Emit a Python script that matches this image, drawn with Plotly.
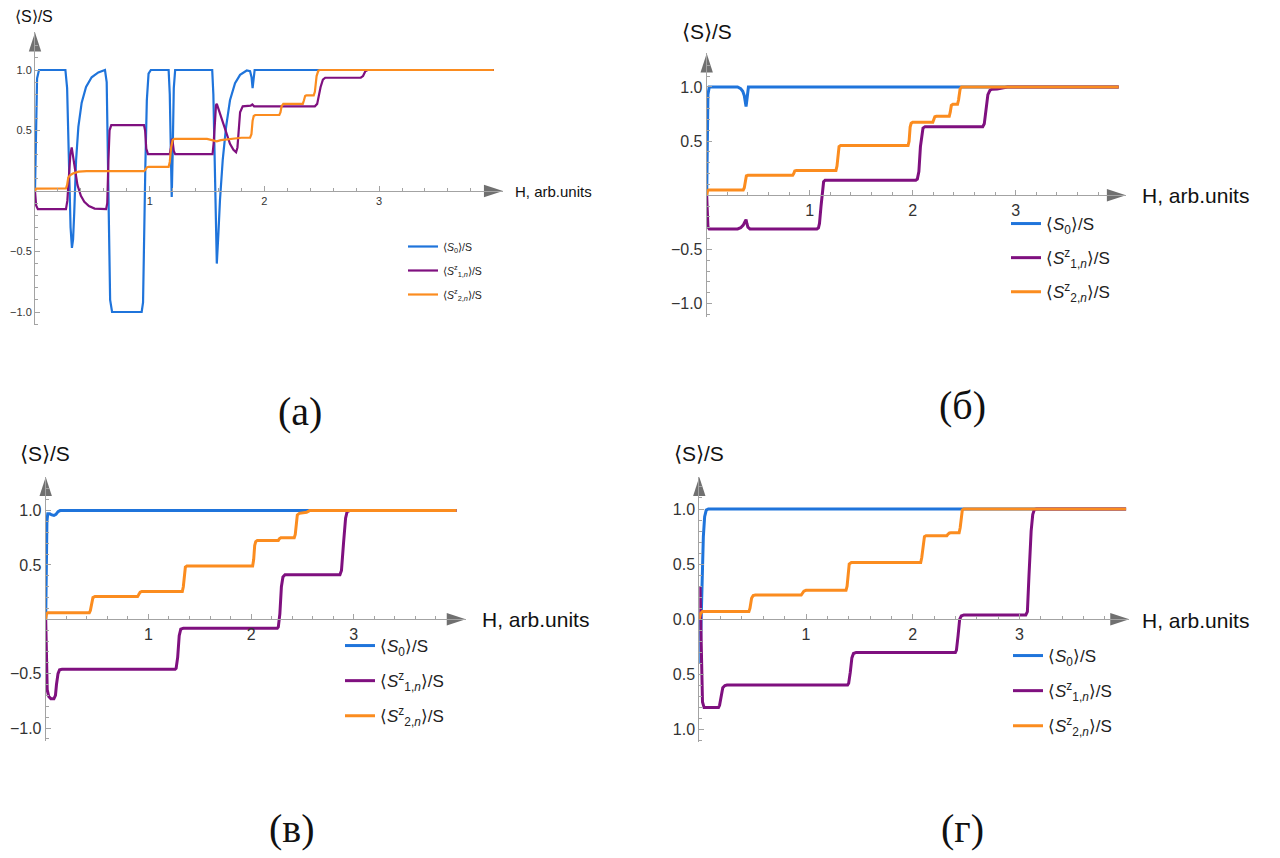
import plotly.graph_objects as go

# ---------------- data ----------------
series_names = ["⟨<i>S</i><sub>0</sub>⟩/S",
                "⟨<i>S</i><sup>z</sup><sub>1,<i>n</i></sub>⟩/S",
                "⟨<i>S</i><sup>z</sup><sub>2,<i>n</i></sub>⟩/S"]
panel_captions = ["(а)", "(б)", "(в)", "(г)"]
y_axis_title = "⟨S⟩/S"
x_axis_title = "H, arb.units"

x_tick_vals = [1, 2, 3]
x_tick_text = ["1", "2", "3"]
y_tick_vals = [-1.0, -0.5, 0.5, 1.0]
y_tick_text = ["−1.0", "−0.5", "0.5", "1.0"]
y_tick_vals_d = [-1.0, -0.5, 0.0, 0.5, 1.0]
y_tick_text_d = ["1.0", "0.5", "0.0", "0.5", "1.0"]

# panel (а)
a_s0_H = [0, 0.008, 0.018, 0.035, 0.265, 0.28, 0.295, 0.31, 0.322, 0.332, 0.342, 0.358, 0.378, 0.407, 0.445,
          0.494, 0.552, 0.61, 0.625, 0.635, 0.645, 0.655, 0.672, 0.93, 0.942, 0.952, 0.962, 0.975, 0.99, 1.01,
          1.165, 1.175, 1.183, 1.192, 1.2, 1.21, 1.222, 1.545, 1.555, 1.565, 1.575, 1.585, 1.599, 1.613, 1.637,
          1.666, 1.70, 1.744, 1.788, 1.846, 1.875, 1.888, 1.897, 1.905, 1.915, 4.0]
a_s0 = [0, 0.6, 0.93, 1.0, 1.0, 0.85, 0.3, -0.3, -0.47, -0.4, -0.18, 0.25, 0.53, 0.73, 0.86,
        0.94, 0.98, 1.0, 0.9, 0.3, -0.5, -0.9, -1.0, -1.0, -0.92, -0.5, 0.2, 0.75, 0.97, 1.0,
        1.0, 0.8, 0.35, -0.05, 0.3, 0.85, 1.0, 1.0, 0.8, 0.3, -0.3, -0.6, -0.35, -0.07, 0.26,
        0.53, 0.75, 0.89, 0.96, 0.996, 0.99, 0.94, 0.85, 0.95, 1.0, 1.0]
a_s1_H = [0, 0.01, 0.025, 0.27, 0.282, 0.295, 0.308, 0.32, 0.335, 0.35, 0.37, 0.40, 0.43, 0.47, 0.52, 0.62,
          0.63, 0.64, 0.65, 0.665, 0.95, 0.96, 0.97, 0.985, 1.175, 1.185, 1.193, 1.2, 1.21, 1.222,
          1.548, 1.558, 1.568, 1.578, 1.585, 1.613, 1.657, 1.70, 1.73, 1.753, 1.765, 1.775, 1.788, 1.811,
          1.88, 1.895, 1.91, 2.44, 2.46, 2.49, 2.51, 2.53, 2.84, 2.86, 2.88, 2.90, 4.0]
a_s1 = [0, -0.12, -0.15, -0.15, -0.08, 0.12, 0.3, 0.36, 0.26, 0.15, 0.05, -0.04, -0.09, -0.125, -0.145, -0.15,
        -0.1, 0.25, 0.5, 0.545, 0.545, 0.5, 0.35, 0.305, 0.305, 0.36, 0.43, 0.41, 0.33, 0.305,
        0.305, 0.4, 0.62, 0.71, 0.72, 0.64, 0.50, 0.39, 0.34, 0.32, 0.36, 0.5, 0.65, 0.70,
        0.705, 0.715, 0.70, 0.70, 0.72, 0.86, 0.92, 0.936, 0.936, 0.95, 0.99, 1.0, 1.0]
a_s2_H = [0, 0.01, 0.27, 0.28, 0.29, 0.305, 0.33, 0.38, 0.45, 0.95, 0.962, 0.975, 0.99, 1.165, 1.175, 1.187,
          1.2, 1.215, 1.50, 1.56, 1.585, 1.62, 1.70, 1.80, 1.875, 1.887, 1.897, 1.907, 1.92, 2.13, 2.14,
          2.15, 2.165, 2.335, 2.345, 2.355, 2.365, 2.43, 2.44, 2.455, 2.47, 2.485, 4.0]
a_s2 = [0, 0.02, 0.022, 0.05, 0.11, 0.13, 0.145, 0.16, 0.165, 0.165, 0.175, 0.195, 0.2, 0.2, 0.24, 0.36,
        0.42, 0.43, 0.43, 0.415, 0.41, 0.42, 0.43, 0.44, 0.44, 0.47, 0.58, 0.62, 0.628, 0.628, 0.65,
        0.70, 0.72, 0.72, 0.75, 0.785, 0.79, 0.79, 0.82, 0.95, 0.995, 1.0, 1.0]

# panel (б)
b_s0_H = [0, 0.005, 0.012, 0.025, 0.30, 0.33, 0.35, 0.365, 0.375, 0.382, 0.39, 0.397, 0.405, 4.0]
b_s0 = [0, 0.6, 0.93, 1.0, 1.0, 0.985, 0.96, 0.92, 0.86, 0.82, 0.88, 0.97, 1.0, 1.0]
b_s1_H = [0, 0.005, 0.012, 0.025, 0.30, 0.33, 0.355, 0.37, 0.382, 0.39, 0.40, 0.42, 1.07, 1.085, 1.095,
          1.11, 1.125, 1.135, 1.15, 2.03, 2.045, 2.06, 2.075, 2.09, 2.10, 2.12, 2.68, 2.695, 2.71, 2.73,
          2.75, 2.77, 2.82, 2.88, 2.92, 4.0]
b_s1 = [0, -0.2, -0.29, -0.31, -0.31, -0.30, -0.275, -0.245, -0.225, -0.26, -0.295, -0.31, -0.31, -0.30, -0.26,
        -0.1, 0.08, 0.125, 0.14, 0.14, 0.15, 0.22, 0.45, 0.58, 0.62, 0.634, 0.634, 0.66, 0.78, 0.93,
        0.97, 0.98, 0.982, 0.99, 1.0, 1.0]
b_s2_H = [0, 0.008, 0.02, 0.355, 0.365, 0.375, 0.385, 0.40, 0.835, 0.845, 0.855, 0.87, 1.255, 1.265, 1.275,
          1.285, 1.30, 1.955, 1.965, 1.975, 1.985, 2.0, 2.195, 2.205, 2.215, 2.23, 2.355, 2.365, 2.375,
          2.39, 2.435, 2.445, 2.46, 2.475, 4.0]
b_s2 = [0, 0.04, 0.05, 0.05, 0.07, 0.15, 0.18, 0.185, 0.185, 0.2, 0.225, 0.23, 0.23, 0.27, 0.40,
        0.45, 0.46, 0.46, 0.5, 0.63, 0.665, 0.674, 0.674, 0.70, 0.725, 0.73, 0.73, 0.77, 0.83,
        0.84, 0.84, 0.88, 0.98, 1.0, 1.0]

# panel (в)
c_s0_H = [0, 0.005, 0.012, 0.02, 0.04, 0.06, 0.08, 0.10, 0.12, 0.14, 4.0]
c_s0 = [0, 0.5, 0.9, 0.97, 0.97, 0.96, 0.955, 0.965, 0.99, 1.0, 1.0]
c_s1_H = [0, 0.006, 0.015, 0.03, 0.05, 0.08, 0.095, 0.105, 0.12, 0.135, 0.16, 1.26, 1.27, 1.285, 1.30,
          1.315, 1.34, 2.255, 2.265, 2.28, 2.295, 2.31, 2.33, 2.865, 2.88, 2.90, 2.92, 2.935, 2.96, 4.0]
c_s1 = [0, -0.4, -0.65, -0.71, -0.73, -0.73, -0.7, -0.6, -0.5, -0.465, -0.46, -0.46, -0.45, -0.35, -0.15,
        -0.09, -0.083, -0.083, -0.07, 0.05, 0.3, 0.39, 0.41, 0.41, 0.45, 0.7, 0.93, 0.99, 1.0, 1.0]
c_s2_H = [0, 0.008, 0.02, 0.425, 0.435, 0.45, 0.46, 0.48, 0.895, 0.905, 0.92, 0.935, 1.33, 1.34, 1.35,
          1.36, 1.375, 2.015, 2.025, 2.035, 2.045, 2.06, 2.265, 2.275, 2.29, 2.42, 2.43, 2.44, 2.45,
          2.47, 2.50, 2.54, 2.57, 4.0]
c_s2 = [0, 0.05, 0.061, 0.061, 0.08, 0.17, 0.2, 0.21, 0.21, 0.225, 0.25, 0.255, 0.255, 0.3, 0.43,
        0.48, 0.49, 0.49, 0.55, 0.68, 0.715, 0.724, 0.724, 0.74, 0.75, 0.75, 0.78, 0.9, 0.96,
        0.975, 0.98, 0.985, 1.0, 1.0]

# panel (г)
d_s0_H = [0, 0.004, 0.012, 0.025, 0.038, 0.05, 0.065, 0.085, 4.0]
d_s0 = [0, -0.4, -0.2, 0.3, 0.75, 0.93, 0.99, 1.0, 1.0]
d_s1_H = [0, 0.003, 0.007, 0.013, 0.02, 0.03, 0.045, 0.18, 0.19, 0.205, 0.22, 0.24, 0.26, 1.39, 1.40,
          1.415, 1.43, 1.445, 1.47, 2.40, 2.41, 2.425, 2.44, 2.455, 2.48, 3.06, 3.075, 3.09, 3.11,
          3.125, 3.14, 3.16, 4.0]
d_s1 = [0, 0.3, 0.28, 0.0, -0.5, -0.75, -0.8, -0.8, -0.78, -0.68, -0.62, -0.6, -0.595, -0.595, -0.58,
        -0.48, -0.35, -0.31, -0.30, -0.30, -0.28, -0.15, 0.0, 0.03, 0.04, 0.04, 0.07, 0.4, 0.8,
        0.95, 0.995, 1.0, 1.0]
d_s2_H = [0, 0.01, 0.03, 0.465, 0.475, 0.49, 0.505, 0.525, 0.955, 0.965, 0.98, 1.0, 1.375, 1.385, 1.395,
          1.405, 1.425, 2.075, 2.085, 2.10, 2.11, 2.125, 2.32, 2.33, 2.345, 2.36, 2.435, 2.445, 2.455,
          2.465, 2.48, 4.0]
d_s2 = [0, 0.05, 0.07, 0.07, 0.1, 0.19, 0.215, 0.22, 0.22, 0.235, 0.255, 0.263, 0.263, 0.3, 0.45,
        0.5, 0.514, 0.514, 0.56, 0.71, 0.75, 0.758, 0.758, 0.77, 0.783, 0.785, 0.785, 0.83, 0.95,
        0.99, 1.0, 1.0]

panel_series = [
    [(a_s0_H, a_s0), (a_s1_H, a_s1), (a_s2_H, a_s2)],
    [(b_s0_H, b_s0), (b_s1_H, b_s1), (b_s2_H, b_s2)],
    [(c_s0_H, c_s0), (c_s1_H, c_s1), (c_s2_H, c_s2)],
    [(d_s0_H, d_s0), (d_s1_H, d_s1), (d_s2_H, d_s2)],
]

# ---------------- styling / layout ----------------
W, HT = 1280, 858
COLORS = ["#1f74db", "#7f107f", "#fb8c1f"]
AXC = "#a3a3a3"
ARROWC = "#707070"
TICKC = "#333333"
FONT = "Liberation Sans, Arial, sans-serif"

x_minor = [round(0.2 * k, 2) for k in range(1, 21) if k % 5 != 0]
y_minor = [round(0.1 * k, 2) for k in range(-11, 13) if k % 5 != 0]

panels = [
    dict(ox=35.0, sx=114.7, oy=191.0, sy=121.0, xmax=4.08, ymin=-1.11, ymax=1.31, lw=2.2,
         tickfs=11, labfs=16, hfs=15, ylab=(13, 16), hlab=(513, 191.5),
         leg=(403, 232), legfs=10.5, leggap=5, cap=(300, 412)),
    dict(ox=706.7, sx=103.0, oy=195.3, sy=108.3, xmax=4.07, ymin=-1.12, ymax=1.31, lw=3.0,
         tickfs=16, labfs=21, hfs=21, ylab=(680, 31), hlab=(1140, 195),
         leg=(1006, 206), legfs=17, leggap=9, cap=(962, 405)),
    dict(ox=45.7, sx=102.7, oy=619.3, sy=108.7, xmax=4.09, ymin=-1.117, ymax=1.31, lw=3.0,
         tickfs=16, labfs=21, hfs=21, ylab=(18, 453), hlab=(480, 619),
         leg=(340, 628), legfs=17, leggap=10, cap=(292, 828)),
    dict(ox=699.3, sx=106.7, oy=619.3, sy=110.3, xmax=4.03, ymin=-1.11, ymax=1.29, lw=3.0,
         tickfs=16, labfs=21, hfs=21, ylab=(672, 453), hlab=(1140, 620),
         leg=(1008, 638), legfs=17, leggap=10, cap=(962, 828)),
]

fig = go.Figure()
layout = dict(width=W, height=HT, margin=dict(l=0, r=0, t=0, b=0),
              paper_bgcolor="white", plot_bgcolor="white",
              font=dict(family=FONT, color="#111111"), showlegend=True)
annotations = []

for i, p in enumerate(panels):
    sfx = "" if i == 0 else str(i + 1)
    xref, yref = "x" + sfx, "y" + sfx
    legname = "legend" + sfx
    x0 = p["ox"] / W
    x1 = (p["ox"] + p["xmax"] * p["sx"]) / W
    ybot = p["oy"] - p["ymin"] * p["sy"]
    ytop = p["oy"] - p["ymax"] * p["sy"]
    y0, y1 = 1 - ybot / HT, 1 - ytop / HT
    xpos = 1 - p["oy"] / HT

    yt_vals = y_tick_vals_d if i == 3 else y_tick_vals
    yt_text = y_tick_text_d if i == 3 else y_tick_text

    layout["xaxis" + sfx] = dict(
        domain=[x0, x1], range=[0, p["xmax"]], anchor="free", position=xpos,
        showline=True, linecolor=AXC, linewidth=1, showgrid=False, zeroline=False,
        tickmode="array", tickvals=x_tick_vals, ticktext=x_tick_text,
        ticks="inside", ticklen=5, tickwidth=1, tickcolor=AXC,
        tickfont=dict(size=p["tickfs"], color=TICKC, family=FONT),
        minor=dict(tickmode="array", tickvals=x_minor, ticks="inside", ticklen=3,
                   tickwidth=1, tickcolor=AXC, showgrid=False),
        fixedrange=True)
    layout["yaxis" + sfx] = dict(
        domain=[y0, y1], range=[p["ymin"], p["ymax"]], anchor=xref,
        showline=True, linecolor=AXC, linewidth=1, showgrid=False, zeroline=False,
        tickmode="array", tickvals=yt_vals, ticktext=yt_text,
        ticks="inside", ticklen=5, tickwidth=1, tickcolor=AXC,
        tickfont=dict(size=p["tickfs"], color=TICKC, family=FONT),
        minor=dict(tickmode="array", tickvals=y_minor, ticks="inside", ticklen=3,
                   tickwidth=1, tickcolor=AXC, showgrid=False),
        fixedrange=True)

    for j, (hs, vs) in enumerate(panel_series[i]):
        fig.add_trace(go.Scatter(
            x=hs, y=vs, mode="lines", name=series_names[j],
            line=dict(color=COLORS[j], width=p["lw"]),
            xaxis=xref, yaxis=yref, legend=legname, legendgroup=f"p{i}s{j}",
            hoverinfo="skip"))

    # axis arrow heads
    fig.add_trace(go.Scatter(
        x=[p["xmax"], 0], y=[0, p["ymax"]], mode="markers",
        marker=dict(symbol="arrow", angle=[90, 0], size=20, color=ARROWC,
                    line=dict(width=0)),
        cliponaxis=False, showlegend=False, hoverinfo="skip",
        xaxis=xref, yaxis=yref))

    layout[legname] = dict(
        x=p["leg"][0] / W, y=1 - p["leg"][1] / HT, xanchor="left", yanchor="top",
        bgcolor="rgba(0,0,0,0)", borderwidth=0, tracegroupgap=p["leggap"],
        font=dict(size=p["legfs"], color="#222222", family=FONT))

    annotations.append(dict(text=y_axis_title, x=p["ylab"][0] / W, y=1 - p["ylab"][1] / HT,
                            xref="paper", yref="paper", xanchor="left", yanchor="middle",
                            showarrow=False, font=dict(size=p["labfs"], color="#111111", family=FONT)))
    annotations.append(dict(text=x_axis_title, x=p["hlab"][0] / W, y=1 - p["hlab"][1] / HT,
                            xref="paper", yref="paper", xanchor="left", yanchor="middle",
                            showarrow=False, font=dict(size=p["hfs"], color="#111111", family=FONT)))
    annotations.append(dict(text=panel_captions[i], x=p["cap"][0] / W, y=1 - p["cap"][1] / HT,
                            xref="paper", yref="paper", xanchor="center", yanchor="middle",
                            showarrow=False,
                            font=dict(size=40, color="#111111", family="Liberation Serif, DejaVu Serif, serif")))

layout["annotations"] = annotations
fig.update_layout(**layout)
fig.write_html("out.html", config={"displayModeBar": False},
               post_script="document.body.style.margin='0px';")
